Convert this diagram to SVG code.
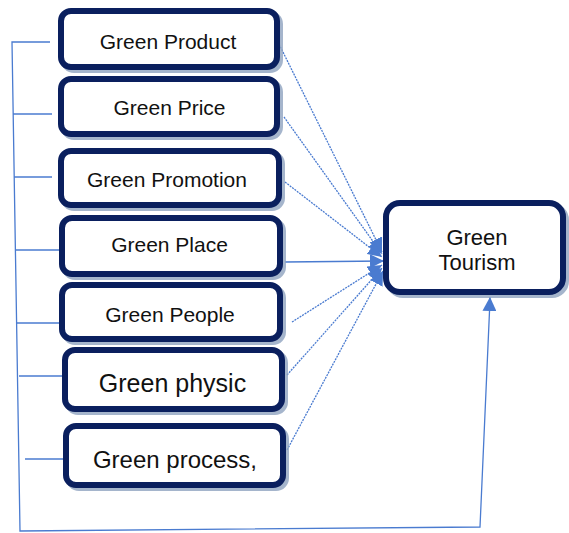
<svg xmlns="http://www.w3.org/2000/svg" width="569" height="533" viewBox="0 0 569 533">
<style>
.box{fill:#fff;stroke:#0a1f5e;stroke-width:6}
.sh{fill:none;stroke:#8ea3bf;stroke-width:6;opacity:0.8}
.t{font-family:"Liberation Sans",Arial,sans-serif;fill:#111;text-anchor:middle;font-size:21px}
.c{fill:none;stroke:#4a7bd0;stroke-width:1.3}
.d{stroke-dasharray:2 1}
</style>
<defs>
<marker id="ah" viewBox="0 0 10 10" refX="10" refY="5" markerWidth="14" markerHeight="14" markerUnits="userSpaceOnUse" orient="auto">
<path d="M0,0 L10,5 L0,10 Z" fill="#4a7bd0"/>
</marker>
</defs>
<g id="connectors">
<polyline class="c" points="50,42 12,42 20,531 480,527 490,300"/>
<line class="c" x1="489.5" y1="310" x2="490" y2="297" marker-end="url(#ah)"/>
<line class="c" x1="13" y1="114" x2="52" y2="114"/>
<line class="c" x1="14" y1="177" x2="52" y2="177"/>
<line class="c" x1="15" y1="250" x2="62" y2="250"/>
<line class="c" x1="17" y1="323" x2="68" y2="323"/>
<line class="c" x1="19" y1="376" x2="70" y2="376"/>
<line class="c" x1="25" y1="459" x2="76" y2="459"/>
<line class="c d" x1="279" y1="44" x2="382" y2="252" marker-end="url(#ah)"/>
<line class="c d" x1="284" y1="117" x2="382" y2="254" marker-end="url(#ah)"/>
<line class="c d" x1="285" y1="182" x2="382" y2="257" marker-end="url(#ah)"/>
<line class="c" x1="285" y1="262" x2="384" y2="261" marker-end="url(#ah)"/>
<line class="c d" x1="292" y1="322" x2="382" y2="265" marker-end="url(#ah)"/>
<line class="c d" x1="287" y1="375" x2="382" y2="268" marker-end="url(#ah)"/>
<line class="c d" x1="287" y1="450" x2="383" y2="271" marker-end="url(#ah)"/>
</g>
<g id="product">
<rect class="sh" x="64" y="14" width="216" height="56" rx="10"/>
<rect class="box" x="61" y="11" width="216" height="56" rx="10"/>
<text class="t" x="168" y="49">Green Product</text>
</g>
<g id="price">
<rect class="sh" x="64" y="82" width="216" height="55" rx="10"/>
<rect class="box" x="61" y="79" width="216" height="55" rx="10"/>
<text class="t" x="169.5" y="115">Green Price</text>
</g>
<g id="promotion">
<rect class="sh" x="64" y="154" width="218" height="54" rx="10"/>
<rect class="box" x="61" y="151" width="218" height="54" rx="10"/>
<text class="t" x="167" y="187">Green Promotion</text>
</g>
<g id="place">
<rect class="sh" x="65" y="221" width="218" height="56" rx="10"/>
<rect class="box" x="62" y="218" width="218" height="56" rx="10"/>
<text class="t" x="169.5" y="252">Green Place</text>
</g>
<g id="people">
<rect class="sh" x="65" y="288" width="218" height="54" rx="10"/>
<rect class="box" x="62" y="285" width="218" height="54" rx="10"/>
<text class="t" x="170" y="322">Green People</text>
</g>
<g id="physic">
<rect class="sh" x="68" y="353" width="217" height="59" rx="10"/>
<rect class="box" x="65" y="350" width="217" height="59" rx="10"/>
<text class="t" x="172.5" y="392" style="font-size:25px">Green physic</text>
</g>
<g id="process">
<rect class="sh" x="69" y="429" width="217" height="59" rx="10"/>
<rect class="box" x="66" y="426" width="217" height="59" rx="10"/>
<text class="t" x="175" y="468" style="font-size:24px">Green process,</text>
</g>
<g id="tourism">
<rect class="sh" x="389" y="206" width="177" height="89" rx="14"/>
<rect class="box" x="386" y="203" width="177" height="89" rx="14"/>
<text class="t" x="477" y="245" style="font-size:22px">Green</text>
<text class="t" x="477" y="270" style="font-size:22px">Tourism</text>
</g>
</svg>
